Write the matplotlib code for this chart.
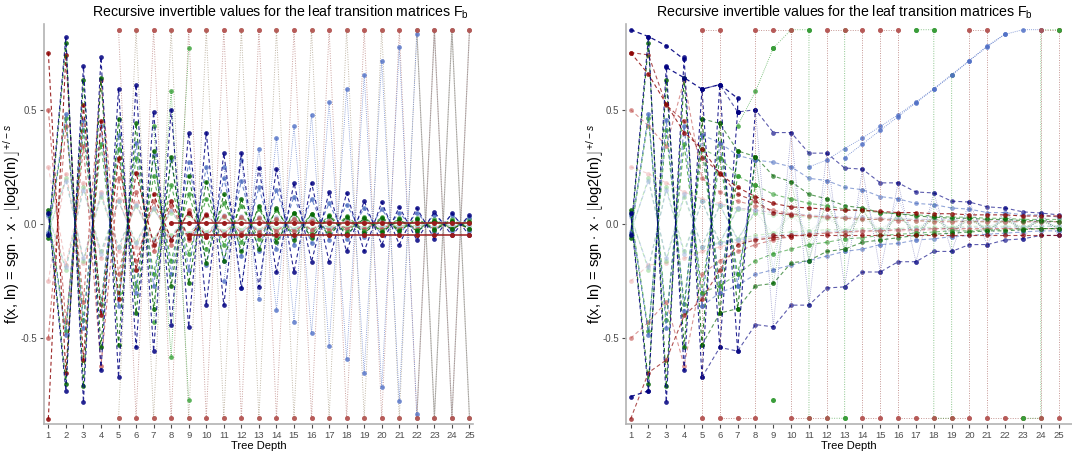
import numpy as np
import matplotlib.pyplot as plt

plt.rcParams['font.family'] = ['Liberation Sans', 'DejaVu Sans']
plt.rcParams['mathtext.fontset'] = 'custom'
plt.rcParams['mathtext.rm'] = 'Liberation Sans'
plt.rcParams['mathtext.it'] = 'Liberation Sans:italic'

nan = np.nan
depth = np.arange(1, 26)

## left panel: upper / lower value of each family at every depth
navy_up = [0.05, 0.82, 0.69, 0.73, 0.59, 0.61, 0.49, 0.50, 0.40, 0.40, 0.31, 0.31, 0.245, 0.24, 0.18, 0.18, 0.14, 0.136, 0.10, 0.096, 0.075, 0.07, 0.053, 0.048, 0.04]
navy_lo = [-0.05, -0.73, -0.78, -0.64, -0.67, -0.54, -0.556, -0.44, -0.45, -0.355, -0.355, -0.28, -0.275, -0.21, -0.21, -0.165, -0.165, -0.12, -0.12, -0.09, -0.09, -0.07, -0.065, -0.05, -0.05]
dgreen_up = [0.06, 0.79, 0.63, 0.64, 0.46, 0.44, 0.32, 0.295, 0.21, 0.185, 0.13, 0.11, 0.08, 0.07, 0.05, 0.045, 0.035, 0.03, 0.025, 0.025, 0.02, 0.02, 0.015, 0.015, 0.01]
dgreen_lo = [-0.06, -0.70, -0.71, -0.54, -0.53, -0.39, -0.37, -0.27, -0.26, -0.17, -0.16, -0.12, -0.11, -0.08, -0.07, -0.06, -0.05, -0.045, -0.04, -0.035, -0.03, -0.03, -0.025, -0.02, -0.02]
dred_up = [0.75, 0.74, 0.52, 0.45, 0.29, 0.225, 0.13, 0.10, 0.05, 0.04, nan, nan, nan, nan, nan, nan, nan, nan, nan, nan, nan, nan, nan, nan, nan]
dred_lo = [-0.853, -0.65, -0.595, -0.40, -0.33, -0.20, -0.09, -0.07, -0.06, -0.055, nan, nan, nan, nan, nan, nan, nan, nan, nan, nan, nan, nan, nan, nan, nan]
ired_up = [0.50, 0.43, 0.34, 0.63, 0.20, 0.14, 0.10, 0.08, 0.06, 0.045, 0.035, 0.03, 0.025, 0.02, 0.02, 0.015, 0.015, 0.01, 0.01, 0.01, 0.01, 0.01, 0.01, 0.01, 0.01]
ired_lo = [-0.50, -0.43, -0.34, -0.62, -0.22, -0.16, -0.12, -0.09, -0.07, -0.055, -0.045, -0.04, -0.035, -0.03, -0.03, -0.025, -0.025, -0.02, -0.02, -0.02, -0.02, -0.02, -0.02, -0.02, -0.02]
rblue_up = [0.04, 0.48, 0.455, 0.43, 0.39, 0.355, 0.30, 0.28, 0.27, 0.25, 0.20, 0.19, 0.16, 0.15, 0.12, 0.11, 0.09, 0.085, 0.07, 0.065, 0.05, 0.05, 0.04, 0.04, 0.03]
rblue_lo = [-0.04, -0.485, -0.455, -0.38, -0.36, -0.30, -0.27, -0.22, -0.20, -0.18, -0.16, -0.14, -0.12, -0.11, -0.09, -0.085, -0.07, -0.065, -0.055, -0.05, -0.045, -0.04, -0.035, -0.03, -0.03]
mgreen_up = [0.05, 0.465, 0.41, 0.35, 0.33, 0.29, 0.21, 0.17, 0.13, 0.11, 0.09, 0.08, 0.065, 0.06, 0.05, 0.045, 0.04, 0.035, 0.03, 0.03, 0.025, 0.025, 0.02, 0.02, 0.02]
mgreen_lo = [-0.05, -0.47, -0.42, -0.35, -0.30, -0.27, -0.22, -0.16, -0.13, -0.11, -0.09, -0.08, -0.065, -0.06, -0.05, -0.045, -0.04, -0.035, -0.03, -0.03, -0.025, -0.025, -0.02, -0.02, -0.02]
pink_up = [0.25, 0.22, 0.18, 0.14, 0.11, 0.09, 0.07, 0.06, 0.05, 0.04, 0.035, 0.03, 0.03, 0.025, 0.025, 0.02, 0.02, 0.02, 0.015, 0.015, 0.015, 0.015, 0.01, 0.01, 0.01]
pink_lo = [-0.25, -0.18, -0.17, -0.15, -0.12, -0.10, -0.08, -0.065, -0.055, -0.05, -0.045, -0.04, -0.035, -0.035, -0.03, -0.03, -0.03, -0.025, -0.025, -0.025, -0.025, -0.02, -0.02, -0.02, -0.02]
lgreen_up = [0.04, 0.20, 0.16, 0.12, 0.10, 0.08, 0.065, 0.05, 0.04, 0.035, 0.03, 0.025, 0.025, 0.02, 0.02, 0.02, 0.015, 0.015, 0.015, 0.01, 0.01, 0.01, 0.01, 0.01, 0.01]
lgreen_lo = [-0.04, -0.20, -0.16, -0.12, -0.10, -0.08, -0.065, -0.05, -0.04, -0.035, -0.03, -0.025, -0.025, -0.02, -0.02, -0.02, -0.015, -0.015, -0.015, -0.01, -0.01, -0.01, -0.01, -0.01, -0.01]
lsblue_up = [0.03, 0.19, 0.15, 0.13, 0.10, 0.085, 0.07, 0.06, 0.05, 0.045, 0.04, 0.035, 0.03, 0.03, 0.025, 0.025, 0.02, 0.02, 0.02, 0.015, 0.015, 0.015, 0.015, 0.01, 0.01]
lsblue_lo = [-0.03, -0.19, -0.15, -0.13, -0.10, -0.085, -0.07, -0.06, -0.05, -0.045, -0.04, -0.035, -0.03, -0.03, -0.025, -0.025, -0.02, -0.02, -0.02, -0.015, -0.015, -0.015, -0.015, -0.01, -0.01]
lblue_mag = [nan, nan, nan, nan, nan, nan, nan, nan, nan, nan, 0.25, 0.28, 0.33, 0.376, 0.427, 0.478, 0.534, 0.592, 0.654, 0.715, 0.775, 0.832, nan, nan, nan]
green_dot_mag = [nan, nan, nan, nan, nan, nan, 0.43, 0.58, 0.77, nan, nan, nan, nan, nan, nan, nan, nan, nan, nan, nan, nan, nan, nan, nan, nan]
sat_mag = [nan, nan, nan, nan, 0.85, 0.85, 0.85, 0.85, 0.85, 0.85, 0.85, 0.85, 0.85, 0.85, 0.85, 0.85, 0.85, 0.85, 0.85, 0.85, 0.85, 0.85, 0.85, 0.85, 0.85]
gray_mag = [nan, nan, nan, nan, nan, nan, nan, nan, nan, nan, nan, nan, nan, nan, nan, nan, nan, nan, nan, nan, nan, 0.85, 0.85, 0.85, 0.85]
flat_hi = [nan, nan, nan, nan, nan, nan, nan, 0.005, 0.005, 0.005, 0.005, 0.005, 0.005, 0.005, 0.005, 0.005, 0.005, 0.005, 0.005, 0.005, 0.005, 0.005, 0.005, 0.005, 0.005]
flat_lo = [nan, nan, nan, nan, nan, nan, nan, nan, -0.05, -0.05, -0.05, -0.05, -0.05, -0.05, -0.05, -0.05, -0.05, -0.05, -0.05, -0.05, -0.05, -0.05, -0.05, -0.05, -0.05]

## right panel: paths in the order they are joined (nan breaks a path)
r_navy_a_x = [1, 2, 3, 4]
r_navy_a_y = [0.85, 0.82, 0.78, 0.72]
r_navy_b_x = [3, 4, 5, 6, 7, 7]
r_navy_b_y = [0.685, 0.64, 0.59, 0.61, 0.55, 0.49]
r_navy_c_x = [1, 2]
r_navy_c_y = [-0.755, -0.73]
r_dred_x = [1, 2, 3, 4, 5, 6, 7, 8, 9, 10, 11, 12, 13, 14, 15, 16, 17, 18, 19, 20, 21, 22, 23, 24, 25]
r_dred_y = [0.75, 0.655, 0.525, 0.40, 0.33, 0.22, 0.16, 0.12, 0.09, 0.075, 0.07, 0.065, 0.06, 0.06, 0.055, 0.05, 0.05, 0.045, 0.045, 0.04, 0.04, 0.04, 0.035, 0.035, 0.035]
r_sat_x = [5, 5, 6, 6, 7, 8, 8, 9, 10, 10, 11, 12, 12, 13, 14, 14, 15, 15, 16, 16, 17, 18, 19, 20, 20, 21, 21, 22, 23, 24, 24, 25, 25]
r_sat_y = [-0.85, 0.85, 0.85, -0.85, -0.85, -0.85, 0.85, 0.85, 0.85, -0.85, -0.85, -0.85, 0.85, 0.85, 0.85, -0.85, -0.85, 0.85, 0.85, -0.85, -0.85, -0.85, -0.85, -0.85, 0.85, 0.85, -0.85, -0.85, -0.85, -0.85, 0.85, 0.85, -0.85]
r_green_x = [9, 10, 11, 11, nan, 12, 13, 13, nan, 17, 18, 18, 19, 19, nan, 23, 24, 24, 25]
r_green_y = [0.77, 0.85, 0.85, -0.85, nan, -0.85, -0.85, 0.85, nan, 0.85, 0.85, -0.85, -0.85, 0.65, nan, -0.85, -0.85, 0.85, 0.85]
r_green_pts_x = [9, 9, 11, 13, 17, 18, 23, 25]
r_green_pts_y = [0.77, -0.77, 0.85, -0.85, 0.85, 0.85, -0.85, 0.85]
r_lblue_x = [13, 14, 15, 16, 17, 18, 19, 20, 21, 22, 23, 24]
r_lblue_y = [0.29, 0.35, 0.41, 0.47, 0.53, 0.59, 0.65, 0.715, 0.78, 0.83, 0.85, 0.85]

# (upper, lower, colour, line style, alpha, joined monotone on the right)
families = [
    (pink_up, pink_lo, '#E9A3A3', 'dash', 0.6, True),
    (lgreen_up, lgreen_lo, '#96D896', 'dash', 0.6, False),
    (lsblue_up, lsblue_lo, '#A8BCE2', 'dash', 0.6, False),
    (ired_up, ired_lo, '#C0504D', 'dash', 0.75, True),
    (mgreen_up, mgreen_lo, '#2E9A2E', 'dash', 0.8, False),
    (rblue_up, rblue_lo, '#4A6CC0', 'dash', 0.8, False),
    (lblue_mag, lblue_mag, '#4F6FC6', 'dot', 0.8, False),
    (green_dot_mag, green_dot_mag, '#33A033', 'dot', 0.8, False),
    (dred_up, dred_lo, '#8B0000', 'dash', 0.85, True),
    (dgreen_up, dgreen_lo, '#006400', 'dash', 0.85, False),
    (navy_up, navy_lo, '#000080', 'dash', 0.85, False),
]
styles = {'dash': (0, (3.5, 2.5)), 'dot': (0, (1, 1.5)), 'dot2': (1.2, (1, 1.5)), 'solid': '-'}

fig = plt.figure(figsize=(10.72, 4.55), dpi=100)
axl = fig.add_axes([44.3 / 1072, 31 / 455, 428.7 / 1072, 400 / 455])
axr = fig.add_axes([626 / 1072, 31 / 455, 446 / 1072, 400 / 455])


def zigzag(up, lo):
    up = np.array(up, float)
    lo = -np.abs(np.array(lo, float))
    odd = depth % 2 == 1
    return np.where(odd, up, lo), np.where(odd, lo, up)


def mark(ax, x, y, c, ls, a, lw=None, ms=3.4):
    w = lw if lw else (0.6 if ls != 'dash' else 0.8)
    ax.plot(x, y, color=c, ls=styles[ls], lw=w, alpha=a, marker='o', ms=ms,
            markeredgewidth=0, zorder=2)


# left: every family alternates sign from one depth to the next
s1, s2 = zigzag(sat_mag, sat_mag)
mark(axl, depth, s1, '#A0524C', 'dot', 0.55, 0.7)
mark(axl, depth, s2, '#8C7A5A', 'dot2', 0.55, 0.7)
g1, g2 = zigzag(gray_mag, gray_mag)
mark(axl, depth, g1, '#7A7A7A', 'solid', 0.45, 0.8)
mark(axl, depth, g2, '#7A7A7A', 'solid', 0.45, 0.8)
for up, lo, c, ls, a, mono in families:
    s1, s2 = zigzag(up, lo)
    mark(axl, depth, s1, c, ls, a)
    mark(axl, depth, s2, c, ls, a)
axl.plot(depth, sat_mag, 'o', color='#B5514F', alpha=0.85, ms=3.6, markeredgewidth=0, zorder=3)
axl.plot(depth, -np.array(sat_mag), 'o', color='#B5514F', alpha=0.85, ms=3.6, markeredgewidth=0, zorder=3)
for fl in (flat_hi, flat_lo):
    axl.plot(depth, fl, color='#9B1C1C', lw=1.1, marker='o', ms=3.6, markeredgewidth=0, zorder=3)

# right: the same families joined along each sign, plus the saturated path
for up, lo, c, ls, a, mono in families:
    up_a = np.array(up, float)
    lo_a = -np.abs(np.array(lo, float))
    if ls == 'dot':
        mark(axr, depth, up_a, c, ls, a)
        continue
    if mono:
        mark(axr, depth, up_a, c, ls, a * 0.8)
        mark(axr, depth, lo_a, c, ls, a * 0.8)
        continue
    mark(axr, depth[4:], up_a[4:], c, ls, a * 0.75)
    mark(axr, depth[4:], lo_a[4:], c, ls, a * 0.75)
    s1, s2 = zigzag(up, lo)
    mark(axr, depth[:7], s1[:7], c, ls, a)
    mark(axr, depth[:8], s2[:8], c, ls, a)
    mark(axr, depth[7:], s2[7:], c, 'dot', a * 0.5)
mark(axr, r_dred_x, r_dred_y, '#8B0000', 'dash', 0.8)
mark(axr, depth, flat_lo, '#8B0000', 'dash', 0.7)
mark(axr, r_sat_x, r_sat_y, '#A0524C', 'dot', 0.6, 0.7)
mark(axr, r_green_x, r_green_y, '#3A9D3A', 'dot', 0.6, 0.7)
axr.plot(r_sat_x, r_sat_y, 'o', color='#B5514F', alpha=0.85, ms=3.6, markeredgewidth=0, zorder=3)
axr.plot(r_green_pts_x, r_green_pts_y, 'o', color='#3A9D3A', ms=3.6, markeredgewidth=0, zorder=4)
mark(axr, r_lblue_x, r_lblue_y, '#4F6FC6', 'dot', 0.85)
mark(axr, r_navy_a_x, r_navy_a_y, '#000080', 'dash', 0.9, 0.9)
mark(axr, r_navy_b_x, r_navy_b_y, '#000080', 'dash', 0.9, 0.9)
mark(axr, r_navy_c_x, r_navy_c_y, '#000080', 'dash', 0.9, 0.9)

ylab = r'f(x, ln) = sgn $\cdot$ x $\cdot$ $\left\lfloor\mathrm{log2(ln)}^{\,}_{\,}\right\rfloor^{+/-s}$'
for ax, xlim, lx in ((axl, (0.77, 25.2), -0.05), (axr, (0.74, 25.75), -0.044)):
    ax.set_xlim(*xlim)
    ax.set_ylim(-0.875, 0.875)
    ax.set_xticks(depth)
    ax.set_yticks([-0.5, 0.0, 0.5])
    ax.set_yticklabels(['-0.5', '0.0', '0.5'])
    ax.tick_params(colors='#4D4D4D', labelsize=7, length=3, width=0.8, pad=2)
    ax.tick_params(axis='x', labelsize=6.8)
    for s in ('top', 'right'):
        ax.spines[s].set_visible(False)
    for s in ('left', 'bottom'):
        ax.spines[s].set_color('#B3B3B3')
        ax.spines[s].set_linewidth(1.2)
    ax.set_xlabel('Tree Depth', fontsize=8, labelpad=1)
    ax.set_ylabel(ylab, fontsize=10.5)
    ax.yaxis.set_label_coords(lx, 0.5)

title = r'Recursive invertible values for the leaf transition matrices F$_\mathrm{b}$'
fig.text(280 / 1072, 1 - 12 / 455, title, ha='center', va='center', fontsize=10.2)
fig.text(844.5 / 1072, 1 - 12 / 455, title, ha='center', va='center', fontsize=10.2)

fig.savefig('out.png', dpi=100)
